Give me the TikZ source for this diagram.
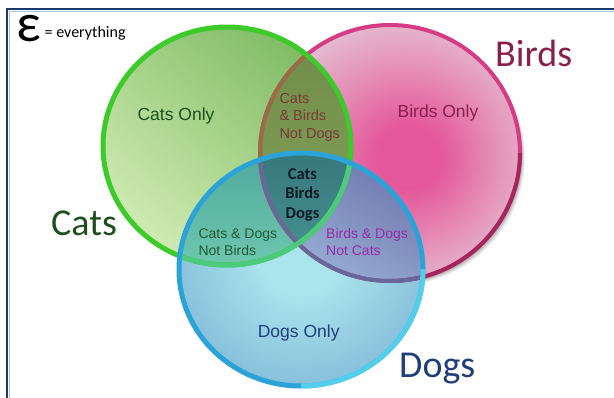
\documentclass[tikz,border=0pt]{standalone}
\usepackage{fontspec}
\setmainfont{Liberation Sans}
\newfontfamily\calib{Carlito}
\usetikzlibrary{shadings}
\definecolor{framenavy}{HTML}{1B3A6B}
\definecolor{framelight}{HTML}{A8C4E4}
\definecolor{catsdark}{HTML}{80BC64}
\definecolor{catslight}{HTML}{CFEBB2}
\definecolor{catsline}{HTML}{3CCB2A}
\definecolor{birdsin}{HTML}{E4579A}
\definecolor{birdsmid}{HTML}{E58DB6}
\definecolor{birdsout}{HTML}{E4C6D4}
\definecolor{birdsline}{HTML}{D63C86}
\definecolor{birdslinedark}{HTML}{961E50}
\definecolor{dogsin}{HTML}{AAE4EC}
\definecolor{dogsout}{HTML}{7EB4D6}
\definecolor{dogsline}{HTML}{2AA4D8}
\definecolor{dogslinelight}{HTML}{62E2F2}
\definecolor{cbtop}{HTML}{6E8A48}
\definecolor{cbbot}{HTML}{86A45C}
\definecolor{cdtop}{HTML}{4FA89C}
\definecolor{cdbot}{HTML}{70C8B0}
\definecolor{bdtop}{HTML}{6E74AE}
\definecolor{bdbot}{HTML}{9AB4D6}
\definecolor{alltop}{HTML}{37777A}
\definecolor{allbot}{HTML}{479594}
\definecolor{cbline}{HTML}{9A6C44}
\definecolor{bdline}{HTML}{66689A}
\definecolor{cdline}{HTML}{4CCB7C}
\definecolor{txtcats}{HTML}{1E4F1E}
\definecolor{txtbirds}{HTML}{8A1F4C}
\definecolor{txtdogs}{HTML}{1F3F7C}
\definecolor{txtcb}{HTML}{7A3A34}
\definecolor{txtcd}{HTML}{1E5A34}
\definecolor{txtbd}{HTML}{9A2AA6}
\definecolor{txtall}{HTML}{0C1A26}
\pgfdeclareradialshading{birdshade}{\pgfpoint{4bp}{-1bp}}{color(0bp)=(birdsin); color(6bp)=(birdsin); color(17bp)=(birdsmid); color(29bp)=(birdsout); color(60bp)=(birdsout)}
\pgfdeclareradialshading{dogshade}{\pgfpoint{0bp}{3bp}}{color(0bp)=(dogsin); color(8bp)=(dogsin); color(32bp)=(dogsout); color(60bp)=(dogsout)}
\begin{document}
\begin{tikzpicture}[x=1pt,y=-1pt,
  biglabel/.style={inner sep=0pt, anchor=base west, font=\calib\fontsize{38}{40}\selectfont},
  regionlabel/.style={inner sep=0pt, font=\fontsize{14}{16.7}\selectfont},
  onlylabel/.style={inner sep=0pt, anchor=base, font=\fontsize{17.5}{20}\selectfont}]
\def\catsE{(227,146) ellipse [x radius=124, y radius=119]}
\def\birdsE{(390,153) ellipse [x radius=130, y radius=128]}
\def\dogsE{(301,269.5) ellipse [x radius=122, y radius=116.5]}
\useasboundingbox (0,0) rectangle (614,397);
\fill[white] (0,0) rectangle (614,397);
% frame
\draw[framelight, line width=1] (9.8,400) -- (9.8,11.8) -- (620,11.8);
\draw[framenavy, line width=2.6] (7,400) -- (7,9) -- (620,9);
% birds shadow
\foreach \s/\o in {5/0.06,4/0.08,3/0.1,2/0.12}
  \fill[black, opacity=\o] (390+\s,153+\s) ellipse [x radius=130, y radius=128];
% base fills
\shade[shading=birdshade] \birdsE;
\shade[top color=catsdark, bottom color=catslight, shading angle=-40] \catsE;
\shade[shading=dogshade] \dogsE;
% overlaps
\begin{scope}
  \clip \catsE; \clip \birdsE;
  \shade[top color=cbtop, bottom color=cbbot] (250,20) rectangle (360,270);
\end{scope}
\begin{scope}
  \clip \catsE; \clip \dogsE;
  \shade[top color=cdtop, bottom color=cdbot] (170,150) rectangle (360,270);
\end{scope}
\begin{scope}
  \clip \birdsE; \clip \dogsE;
  \shade[top color=bdtop, bottom color=bdbot, shading angle=-30] (260,150) rectangle (430,285);
\end{scope}
\begin{scope}
  \clip \catsE; \clip \birdsE; \clip \dogsE;
  \shade[top color=alltop, bottom color=allbot] (250,150) rectangle (360,270);
\end{scope}
% outlines
\draw[birdsline, line width=4] \birdsE;
\begin{scope}
  \clip (390,153) rectangle (530,290);
  \draw[birdslinedark, line width=4, opacity=0.75] \birdsE;
\end{scope}
\begin{scope}
  \clip \catsE;
  \draw[cbline, line width=4] \birdsE;
\end{scope}
\draw[catsline, line width=5] \catsE;
\begin{scope}
  \clip \dogsE;
  \draw[bdline, line width=4] \birdsE;
  \draw[cdline, line width=5] \catsE;
\end{scope}
\draw[dogsline, line width=5] \dogsE;
\begin{scope}
  \clip (301,269.5) rectangle (430,400);
  \draw[dogslinelight, line width=5, opacity=0.7] \dogsE;
\end{scope}
% epsilon legend
\node[inner sep=0pt, anchor=base west, font=\calib\fontsize{54}{56}\selectfont] (eps) at (16,41.7) {ε};
\node[inner sep=0pt, anchor=base west, font=\calib\fontsize{16}{18}\selectfont] (eq) at (44.5,37.7) {= everything};
% set names
\node[biglabel, text=txtcats] (catsname) at (51,235) {Cats};
\node[biglabel, text=txtbirds] (birdsname) at (495,66.7) {Birds};
\node[biglabel, text=txtdogs] (dogsname) at (399,377.7) {Dogs};
% region labels
\node[onlylabel, text=txtcats] (catsonly) at (176,120) {Cats Only};
\node[onlylabel, text=txtbirds] (birdsonly) at (438,117.3) {Birds Only};
\node[onlylabel, text=txtdogs] (dogsonly) at (298.7,337.3) {Dogs Only};
\node[regionlabel, anchor=base west, align=left, text=txtcb, font=\fontsize{14.5}{17.5}\selectfont] (cb) at (279.3,138.3) {Cats\\\& Birds\\Not Dogs};
\node[regionlabel, anchor=base west, align=left, text=txtcd] (cd) at (198.3,255) {Cats \& Dogs\\Not Birds};
\node[regionlabel, anchor=base west, align=left, text=txtbd] (bd) at (326,255) {Birds \& Dogs\\Not Cats};
\node[inner sep=0pt, anchor=base, align=center, text=txtall, font=\calib\bfseries\fontsize{16.5}{19.5}\selectfont] (all) at (302.5,218.3) {Cats\\Birds\\Dogs};
\end{tikzpicture}
\end{document}
